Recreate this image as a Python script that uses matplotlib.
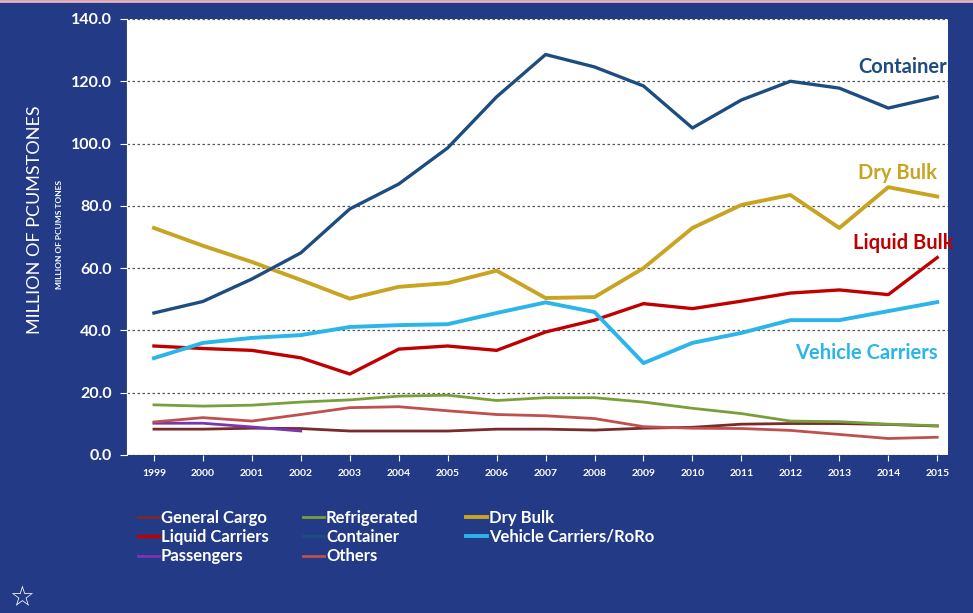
import numpy as np
import matplotlib.pyplot as plt

plt.rcParams['font.family'] = ['Lato', 'DejaVu Sans']

years = list(range(1999, 2016))

container = [45.6, 49.3, 56.5, 64.9, 79.0, 87.0, 98.6, 115.0, 128.6, 124.6, 118.5,
             105.0, 114.0, 120.0, 117.8, 111.4, 115.0]
dry_bulk = [72.9, 67.2, 62.0, 56.2, 50.2, 54.0, 55.2, 59.2, 50.4, 50.7, 60.0,
            72.9, 80.3, 83.5, 72.9, 86.0, 83.0]
liquid = [35.0, 34.2, 33.6, 31.2, 26.0, 34.0, 35.0, 33.6, 39.5, 43.3, 48.6,
          47.0, 49.4, 52.0, 53.0, 51.5, 63.4]
vehicle = [31.1, 36.0, 37.6, 38.5, 41.1, 41.7, 42.0, 45.6, 49.0, 45.9, 29.5,
           36.0, 39.2, 43.3, 43.3, 46.2, 49.1]
refrigerated = [16.1, 15.7, 16.0, 17.0, 17.7, 18.9, 19.2, 17.5, 18.4, 18.4, 17.0,
                15.0, 13.3, 10.9, 10.7, 9.9, 9.4]
others = [10.6, 12.0, 10.9, 13.0, 15.2, 15.5, 14.2, 13.0, 12.6, 11.7, 9.1,
          8.6, 8.5, 7.9, 6.6, 5.3, 5.7]
general_cargo = [8.3, 8.3, 8.6, 8.5, 7.7, 7.7, 7.7, 8.3, 8.3, 8.0, 8.6,
                 8.9, 9.9, 10.1, 10.1, 9.8, 9.3]
passenger_years = [1999, 2000, 2001, 2002]
passengers = [10.2, 10.2, 9.0, 7.7]

bg = '#233b86'

fig = plt.figure(figsize=(9.73, 6.13), dpi=100)
fig.patch.set_facecolor(bg)
ax = fig.add_axes([127 / 973, 1 - 455 / 613, (948 - 127) / 973, (455 - 19) / 613])
ax.set_facecolor('white')

h_gc, = ax.plot(years, general_cargo, color='#7a2a2a', lw=2.0, label='General Cargo')
h_rf, = ax.plot(years, refrigerated, color='#77a03a', lw=2.0, label='Refrigerated')
h_db, = ax.plot(years, dry_bulk, color='#c9a422', lw=2.8, label='Dry Bulk')
h_lq, = ax.plot(years, liquid, color='#c00000', lw=2.4, label='Liquid Carriers')
h_ct, = ax.plot(years, container, color='#1d4d80', lw=2.4, label='Container')
h_vc, = ax.plot(years, vehicle, color='#2bb5e8', lw=2.8, label='Vehicle Carriers/RoRo')
h_ps, = ax.plot(passenger_years, passengers, color='#7a35b0', lw=2.0, label='Passengers')
h_ot, = ax.plot(years, others, color='#c0504d', lw=2.0, label='Others')

ax.set_xlim(1998.45, 2015.22)
ax.set_ylim(0, 140)
ax.set_yticks(np.arange(0, 141, 20))
ax.set_yticklabels([f'{v:.1f}' for v in np.arange(0, 141, 20)])
ax.set_xticks(years)
ax.set_xticklabels([str(y) for y in years])
ax.yaxis.grid(True, linestyle=(0, (2, 2)), color='#555555', lw=0.9)
ax.set_axisbelow(True)
for s in ['top', 'right', 'bottom']:
    ax.spines[s].set_visible(False)
ax.spines['left'].set_color('white')
ax.tick_params(axis='y', colors='white', labelsize=11.5, length=5, pad=6)
ax.tick_params(axis='x', colors='white', labelsize=7.5, length=4, pad=6)
for lbl in ax.get_yticklabels() + ax.get_xticklabels():
    lbl.set_fontweight('bold')

fig.text(35 / 973, 1 - 220 / 613, 'MILLION OF PCUMSTONES', color='white', fontsize=13,
         rotation=90, ha='center', va='center')
fig.text(60 / 973, 1 - 235 / 613, 'MILLION OF PCUMS TONES', color='white', fontsize=6,
         fontweight='bold', rotation=90, ha='center', va='center')

lab = dict(fontsize=14.5, fontweight='bold', ha='center', va='center')
fig.text(903 / 973, 1 - 67 / 613, 'Container', color='#1d4d80', **lab)
fig.text(897 / 973, 1 - 173 / 613, 'Dry Bulk', color='#c9a422', **lab)
fig.text(903 / 973, 1 - 243 / 613, 'Liquid Bulk', color='#c00000', **lab)
fig.text(866 / 973, 1 - 353 / 613, 'Vehicle Carriers', color='#2bb5e8', **lab)

columns = [([h_gc, h_lq, h_ps], 131), ([h_rf, h_ct, h_ot], 296), ([h_db, h_vc], 459)]
for handles, x0 in columns:
    leg = fig.legend(handles=handles, loc='upper left', bbox_to_anchor=(x0 / 973, 1 - 503 / 613),
                     frameon=False, fontsize=12, handlelength=1.3, handletextpad=0.1,
                     labelspacing=0.2, borderaxespad=0)
    for t in leg.get_texts():
        t.set_color('white')
        t.set_fontweight('bold')

fig.text(22 / 973, 1 - 598 / 613, '☆', color='white', fontsize=20, ha='center', va='center',
         family='DejaVu Sans')
fig.add_artist(plt.Line2D([0, 1], [0.998, 0.998], color='#e8b4c0', lw=2, transform=fig.transFigure))

fig.savefig('out.png', dpi=100, facecolor=bg)
